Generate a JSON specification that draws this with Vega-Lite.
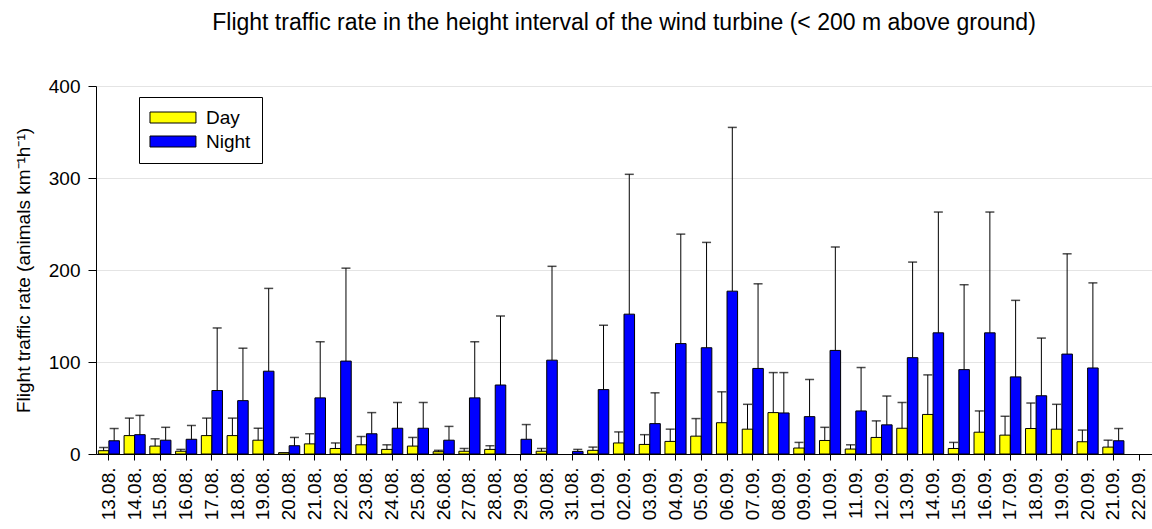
{
  "$schema": "https://vega.github.io/schema/vega-lite/v6.json",
  "width": 1056,
  "height": 368,
  "autosize": "none",
  "padding": {"left": 96, "top": 86, "right": 0, "bottom": 75},
  "background": "white",
  "title": {
    "text": "Flight traffic rate in the height interval of the wind turbine (< 200 m above ground)",
    "font": "Liberation Sans",
    "fontSize": 23,
    "fontWeight": "normal",
    "color": "black",
    "anchor": "middle",
    "frame": "group",
    "offset": 42
  },
  "config": {
    "view": {"stroke": null},
    "axis": {
      "labelFont": "Liberation Sans",
      "titleFont": "Liberation Sans",
      "labelColor": "black",
      "titleColor": "black",
      "domainColor": "black",
      "tickColor": "black"
    }
  },
  "data": {
    "values": [
      {"date": "13.08.", "period": "Day", "value": 3.6, "upper": 7},
      {"date": "13.08.", "period": "Night", "value": 14.4, "upper": 27.7},
      {"date": "14.08.", "period": "Day", "value": 20, "upper": 39},
      {"date": "14.08.", "period": "Night", "value": 21, "upper": 42},
      {"date": "15.08.", "period": "Day", "value": 8.6, "upper": 16.5},
      {"date": "15.08.", "period": "Night", "value": 15, "upper": 29},
      {"date": "16.08.", "period": "Day", "value": 3, "upper": 5},
      {"date": "16.08.", "period": "Night", "value": 16, "upper": 31},
      {"date": "17.08.", "period": "Day", "value": 20, "upper": 39},
      {"date": "17.08.", "period": "Night", "value": 69, "upper": 137},
      {"date": "18.08.", "period": "Day", "value": 20, "upper": 39},
      {"date": "18.08.", "period": "Night", "value": 58, "upper": 115},
      {"date": "19.08.", "period": "Day", "value": 15, "upper": 28},
      {"date": "19.08.", "period": "Night", "value": 90, "upper": 180},
      {"date": "20.08.", "period": "Day", "value": 1.5, "upper": null},
      {"date": "20.08.", "period": "Night", "value": 9, "upper": 18},
      {"date": "21.08.", "period": "Day", "value": 11, "upper": 22},
      {"date": "21.08.", "period": "Night", "value": 61, "upper": 122},
      {"date": "22.08.", "period": "Day", "value": 6, "upper": 12},
      {"date": "22.08.", "period": "Night", "value": 101, "upper": 202},
      {"date": "23.08.", "period": "Day", "value": 10, "upper": 19},
      {"date": "23.08.", "period": "Night", "value": 22, "upper": 45},
      {"date": "24.08.", "period": "Day", "value": 5, "upper": 10},
      {"date": "24.08.", "period": "Night", "value": 28, "upper": 56},
      {"date": "25.08.", "period": "Day", "value": 8.6, "upper": 18},
      {"date": "25.08.", "period": "Night", "value": 28, "upper": 56},
      {"date": "26.08.", "period": "Day", "value": 2.5, "upper": 4},
      {"date": "26.08.", "period": "Night", "value": 15, "upper": 30},
      {"date": "27.08.", "period": "Day", "value": 3, "upper": 6},
      {"date": "27.08.", "period": "Night", "value": 61, "upper": 122},
      {"date": "28.08.", "period": "Day", "value": 5, "upper": 9},
      {"date": "28.08.", "period": "Night", "value": 75, "upper": 150},
      {"date": "29.08.", "period": "Night", "value": 16, "upper": 32},
      {"date": "30.08.", "period": "Day", "value": 3, "upper": 6},
      {"date": "30.08.", "period": "Night", "value": 102, "upper": 204},
      {"date": "31.08.", "period": "Night", "value": 2.8, "upper": 5},
      {"date": "01.09.", "period": "Day", "value": 4, "upper": 7.5},
      {"date": "01.09.", "period": "Night", "value": 70, "upper": 140},
      {"date": "02.09.", "period": "Day", "value": 12, "upper": 24},
      {"date": "02.09.", "period": "Night", "value": 152, "upper": 304},
      {"date": "03.09.", "period": "Day", "value": 10.4, "upper": 21},
      {"date": "03.09.", "period": "Night", "value": 33, "upper": 66.5},
      {"date": "04.09.", "period": "Day", "value": 13.7, "upper": 27},
      {"date": "04.09.", "period": "Night", "value": 120, "upper": 239},
      {"date": "05.09.", "period": "Day", "value": 19.4, "upper": 38.5},
      {"date": "05.09.", "period": "Night", "value": 115.5, "upper": 230},
      {"date": "06.09.", "period": "Day", "value": 34, "upper": 67.6},
      {"date": "06.09.", "period": "Night", "value": 177, "upper": 355},
      {"date": "07.09.", "period": "Day", "value": 27, "upper": 54},
      {"date": "07.09.", "period": "Night", "value": 93, "upper": 185},
      {"date": "08.09.", "period": "Day", "value": 45, "upper": 88.5},
      {"date": "08.09.", "period": "Night", "value": 44.6, "upper": 88.5},
      {"date": "09.09.", "period": "Day", "value": 6.5, "upper": 12.6},
      {"date": "09.09.", "period": "Night", "value": 40.6, "upper": 81},
      {"date": "10.09.", "period": "Day", "value": 14.7, "upper": 29},
      {"date": "10.09.", "period": "Night", "value": 112.6, "upper": 225},
      {"date": "11.09.", "period": "Day", "value": 5.4, "upper": 10},
      {"date": "11.09.", "period": "Night", "value": 46.8, "upper": 94},
      {"date": "12.09.", "period": "Day", "value": 18, "upper": 36},
      {"date": "12.09.", "period": "Night", "value": 31.7, "upper": 63},
      {"date": "13.09.", "period": "Day", "value": 28, "upper": 56},
      {"date": "13.09.", "period": "Night", "value": 104.7, "upper": 208.6},
      {"date": "14.09.", "period": "Day", "value": 43, "upper": 86},
      {"date": "14.09.", "period": "Night", "value": 131.7, "upper": 263},
      {"date": "15.09.", "period": "Day", "value": 6, "upper": 12.6},
      {"date": "15.09.", "period": "Night", "value": 91.7, "upper": 184},
      {"date": "16.09.", "period": "Day", "value": 23.7, "upper": 46.8},
      {"date": "16.09.", "period": "Night", "value": 131.7, "upper": 263},
      {"date": "17.09.", "period": "Day", "value": 20.5, "upper": 41},
      {"date": "17.09.", "period": "Night", "value": 83.8, "upper": 167},
      {"date": "18.09.", "period": "Day", "value": 27.7, "upper": 55.4},
      {"date": "18.09.", "period": "Night", "value": 63.3, "upper": 126},
      {"date": "19.09.", "period": "Day", "value": 27, "upper": 54},
      {"date": "19.09.", "period": "Night", "value": 108.6, "upper": 217.6},
      {"date": "20.09.", "period": "Day", "value": 13.3, "upper": 26},
      {"date": "20.09.", "period": "Night", "value": 93.5, "upper": 186},
      {"date": "21.09.", "period": "Day", "value": 7.5, "upper": 15},
      {"date": "21.09.", "period": "Night", "value": 14.4, "upper": 27.7}
    ]
  },
  "encoding": {
    "x": {
      "field": "date",
      "type": "nominal",
      "sort": null,
      "scale": {
        "domain": ["13.08.", "14.08.", "15.08.", "16.08.", "17.08.", "18.08.", "19.08.", "20.08.", "21.08.", "22.08.", "23.08.", "24.08.", "25.08.", "26.08.", "27.08.", "28.08.", "29.08.", "30.08.", "31.08.", "01.09.", "02.09.", "03.09.", "04.09.", "05.09.", "06.09.", "07.09.", "08.09.", "09.09.", "10.09.", "11.09.", "12.09.", "13.09.", "14.09.", "15.09.", "16.09.", "17.09.", "18.09.", "19.09.", "20.09.", "21.09.", "22.09."],
        "paddingInner": 0.18,
        "paddingOuter": 0.09
      },
      "axis": {
        "title": null,
        "labelAngle": -90,
        "labelFontSize": 19,
        "labelPadding": 7,
        "tickSize": 6,
        "grid": false,
        "domainWidth": 1
      }
    },
    "xOffset": {
      "field": "period",
      "type": "nominal",
      "scale": {"domain": ["Day", "Night"], "paddingInner": 0, "paddingOuter": 0}
    }
  },
  "layer": [
    {
      "mark": {"type": "bar", "stroke": "black", "strokeWidth": 1},
      "encoding": {
        "y": {
          "field": "value",
          "type": "quantitative",
          "scale": {"domain": [0, 400], "nice": false},
          "axis": {
            "values": [0, 100, 200, 300, 400],
            "title": "Flight traffic rate (animals km⁻¹h⁻¹)",
            "titleFontSize": 19,
            "titleFontWeight": "normal",
            "titlePadding": 15,
            "labelFontSize": 19,
            "labelPadding": 8,
            "tickSize": 8,
            "grid": true,
            "gridColor": "#e4e4e4",
            "gridWidth": 1
          }
        },
        "color": {
          "field": "period",
          "type": "nominal",
          "scale": {"domain": ["Day", "Night"], "range": ["#ffff00", "#0000ff"]},
          "legend": {
            "orient": "none",
            "legendX": 43,
            "legendY": 11,
            "title": null,
            "strokeColor": "black",
            "fillColor": "white",
            "padding": 11,
            "rowPadding": 4,
            "symbolType": "M-1.73,-1H6.63V1H-1.73Z",
            "symbolSize": 121,
            "symbolStrokeColor": "black",
            "symbolStrokeWidth": 1,
            "symbolOpacity": 1,
            "labelFont": "Liberation Sans",
            "labelFontSize": 19,
            "labelColor": "black",
            "labelOffset": 37
          }
        }
      }
    },
    {
      "mark": {"type": "rule", "color": "black", "strokeWidth": 1},
      "encoding": {
        "y": {"field": "value", "type": "quantitative"},
        "y2": {"field": "upper"}
      }
    },
    {
      "mark": {"type": "tick", "color": "black", "thickness": 1.5, "size": 9},
      "encoding": {
        "y": {"field": "upper", "type": "quantitative"}
      }
    }
  ]
}
